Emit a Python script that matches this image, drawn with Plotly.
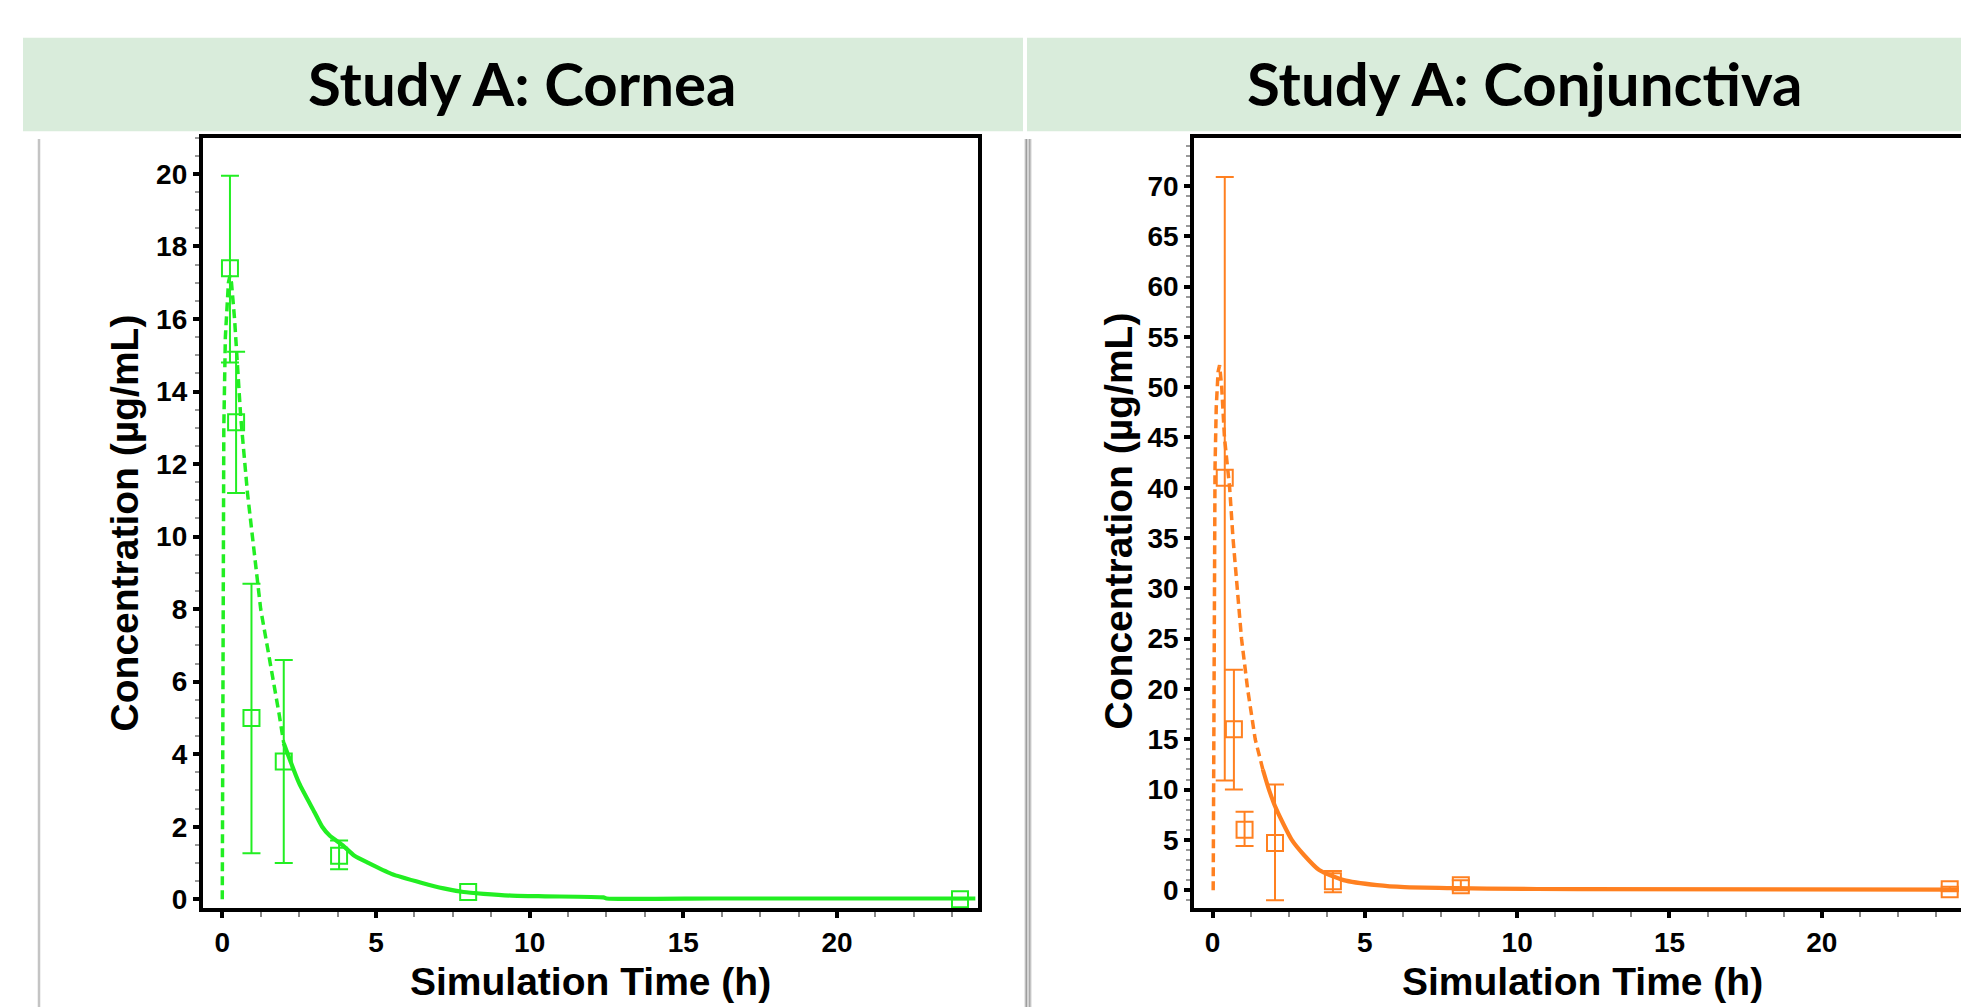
import plotly.graph_objects as go

# ---------------- data ----------------
panel_titles = ["Study A: Cornea", "Study A: Conjunctiva"]
x_title = "Simulation Time (h)"
y_title = "Concentration (µg/mL)"

# Cornea observed
t_cornea = [0.25, 0.45, 0.95, 2.0, 3.8, 8.0, 24.0]
c_cornea = [17.4, 13.15, 5.0, 3.8, 1.2, 0.2, 0.0]
c_cornea_hi = [19.95, 15.1, 8.7, 6.6, 1.62, 0.2, 0.0]
c_cornea_lo = [14.8, 11.2, 1.27, 1.0, 0.83, 0.2, 0.0]

# Cornea simulated (dashed part then solid part)
sim_cornea_dash_t = [0.0, 0.02, 0.05, 0.1, 0.15, 0.2, 0.25, 0.3, 0.4, 0.6, 0.82, 1.0, 1.25, 1.5, 1.7, 1.85, 2.0]
sim_cornea_dash = [0.0, 8.0, 13.0, 15.5, 16.5, 17.0, 17.2, 17.0, 16.0, 13.3, 11.2, 9.8, 8.0, 6.8, 5.9, 5.1, 4.3]
sim_cornea_solid_t = [2.0, 2.5, 3.0, 3.25, 3.5, 3.9, 4.3, 4.75, 5.5, 6.5, 7.2, 7.85, 8.5, 9.4, 10.5, 12.4, 12.5, 16.0, 20.0, 24.5]
sim_cornea_solid = [4.3, 3.2, 2.4, 2.0, 1.75, 1.5, 1.2, 1.0, 0.7, 0.45, 0.3, 0.2, 0.15, 0.1, 0.08, 0.05, 0.02, 0.02, 0.02, 0.02]

# Conjunctiva observed
t_conj = [0.4, 0.7, 1.05, 2.05, 3.95, 8.15, 24.2]
c_conj = [41.0, 16.0, 6.0, 4.7, 0.9, 0.5, 0.1]
c_conj_hi = [70.9, 21.9, 7.8, 10.5, 1.9, 1.0, 0.35]
c_conj_lo = [10.9, 10.0, 4.4, -1.0, -0.2, 0.0, -0.1]

# Conjunctiva simulated
sim_conj_dash_t = [0.02, 0.04, 0.06, 0.08, 0.12, 0.18, 0.23, 0.3, 0.39, 0.56, 0.67, 0.8, 0.95, 1.15, 1.4, 1.65]
sim_conj_dash = [0.0, 12.0, 30.0, 42.0, 48.0, 51.5, 52.2, 50.0, 45.0, 40.0, 35.0, 30.0, 25.0, 20.0, 15.0, 12.0]
sim_conj_solid_t = [1.65, 1.85, 2.1, 2.6, 3.0, 3.5, 4.3, 5.4, 6.3, 8.0, 9.0, 12.0, 24.5]
sim_conj_solid = [12.0, 10.0, 8.0, 5.0, 3.5, 2.0, 1.0, 0.5, 0.3, 0.2, 0.15, 0.1, 0.05]

GREEN = "#22EE22"
ORANGE = "#FF8020"

W, H = 1969, 1007

fig = go.Figure()


def add_panel(xa, ya, t, c, hi, lo, dt, dv, st, sv, color):
    xref = "x" if xa == 1 else f"x{xa}"
    yref = "y" if ya == 1 else f"y{ya}"
    fig.add_trace(go.Scatter(x=dt, y=dv, mode="lines", xaxis=xref, yaxis=yref,
                             line=dict(color=color, width=3.5, dash="9px,5px"),
                             showlegend=False, hoverinfo="skip"))
    fig.add_trace(go.Scatter(x=st, y=sv, mode="lines", xaxis=xref, yaxis=yref,
                             line=dict(color=color, width=4.2, shape="spline", smoothing=0.6),
                             showlegend=False, hoverinfo="skip"))
    up = [h - v for h, v in zip(hi, c)]
    dn = [v - l for v, l in zip(c, lo)]
    fig.add_trace(go.Scatter(x=t, y=c, mode="markers", xaxis=xref, yaxis=yref,
                             marker=dict(symbol="square-open", size=16, color=color,
                                         line=dict(width=2, color=color)),
                             error_y=dict(type="data", array=up, arrayminus=dn, symmetric=False,
                                          color=color, thickness=2, width=9),
                             showlegend=False))


add_panel(1, 1, t_cornea, c_cornea, c_cornea_hi, c_cornea_lo,
          sim_cornea_dash_t, sim_cornea_dash, sim_cornea_solid_t, sim_cornea_solid, GREEN)
add_panel(2, 2, t_conj, c_conj, c_conj_hi, c_conj_lo,
          sim_conj_dash_t, sim_conj_dash, sim_conj_solid_t, sim_conj_solid, ORANGE)

ydom = [1 - 906.6 / H, 1 - 130.6 / H]
tickfont = dict(family="Arial", size=28, color="black", weight="bold")

common_axis = dict(showline=True, linecolor="black", linewidth=3.5, mirror=True,
                   ticks="outside", ticklen=6, tickwidth=3.5, tickcolor="black",
                   showgrid=False, zeroline=False, tickfont=tickfont)

fig.update_layout(
    width=W, height=H, margin=dict(l=0, r=0, t=0, b=0),
    paper_bgcolor="white", plot_bgcolor="white",
    xaxis=dict(domain=[194.6 / W, 969.5 / W], range=[-0.64, 24.57], dtick=5, tick0=0,
               minor=dict(dtick=1.25, ticks="outside", ticklen=5, tickcolor="#888", tickwidth=1.5),
               anchor="y", **common_axis),
    yaxis=dict(domain=ydom, range=[-0.25, 21.0], dtick=2, tick0=0,
               minor=dict(dtick=0.5, ticks="outside", ticklen=4, tickcolor="#999", tickwidth=1.5),
               anchor="x", **common_axis),
    xaxis2=dict(domain=[1186 / W, 1961.5 / W], range=[-0.61, 24.85], dtick=5, tick0=0,
                minor=dict(dtick=1.25, ticks="outside", ticklen=5, tickcolor="#888", tickwidth=1.5),
                anchor="y2", **common_axis),
    yaxis2=dict(domain=ydom, range=[-1.8, 74.8], dtick=5, tick0=0,
                minor=dict(dtick=1, ticks="outside", ticklen=4, tickcolor="#999", tickwidth=1.5),
                anchor="x2", **common_axis),
)

shapes = []
# header bands
shapes.append(dict(type="rect", xref="paper", yref="paper", x0=15 / W, x1=1015 / W,
                   y0=1 - 124 / H, y1=1 - 30 / H, fillcolor="#D9ECDB", line=dict(width=0), layer="below"))
shapes.append(dict(type="rect", xref="paper", yref="paper", x0=1019 / W, x1=1.0,
                   y0=1 - 124 / H, y1=1 - 30 / H, fillcolor="#D9ECDB", line=dict(width=0), layer="below"))
# left border line
shapes.append(dict(type="line", xref="paper", yref="paper", x0=31 / W, x1=31 / W,
                   y0=0, y1=1 - 132 / H, line=dict(color="#C4C4C4", width=2.5)))
# middle separator
shapes.append(dict(type="rect", xref="paper", yref="paper", x0=1016.5 / W, x1=1023.5 / W,
                   y0=0, y1=1 - 132 / H, fillcolor="#D4D4D4", line=dict(width=0)))
shapes.append(dict(type="line", xref="paper", yref="paper", x0=1018.3 / W, x1=1018.3 / W,
                   y0=0, y1=1 - 132 / H, line=dict(color="#9A9A9A", width=1.3)))
shapes.append(dict(type="line", xref="paper", yref="paper", x0=1021.7 / W, x1=1021.7 / W,
                   y0=0, y1=1 - 132 / H, line=dict(color="#A8A8A8", width=1.3)))
fig.update_layout(shapes=shapes)

title_font = dict(family="Lato", size=60, color="black", weight="bold")
axis_title_font = dict(family="Arial", size=39, color="black", weight="bold")
ann = []
ann.append(dict(text=panel_titles[0], xref="paper", yref="paper", x=514 / W, y=1 - 76 / H,
                xanchor="center", yanchor="middle", showarrow=False, font=title_font))
ann.append(dict(text=panel_titles[1], xref="paper", yref="paper", x=1516 / W, y=1 - 76 / H,
                xanchor="center", yanchor="middle", showarrow=False, font=title_font))
ann.append(dict(text=x_title, xref="paper", yref="paper", x=582 / W, y=1 - 980 / H,
                xanchor="center", yanchor="middle", showarrow=False, font=axis_title_font))
ann.append(dict(text=x_title, xref="paper", yref="paper", x=1574 / W, y=1 - 980 / H,
                xanchor="center", yanchor="middle", showarrow=False, font=axis_title_font))
ann.append(dict(text=y_title, xref="paper", yref="paper", x=116 / W, y=1 - 519 / H,
                xanchor="center", yanchor="middle", showarrow=False, textangle=-90, font=axis_title_font))
ann.append(dict(text=y_title, xref="paper", yref="paper", x=1110 / W, y=1 - 517 / H,
                xanchor="center", yanchor="middle", showarrow=False, textangle=-90, font=axis_title_font))
fig.update_layout(annotations=ann)

fig.write_html("out.html")
